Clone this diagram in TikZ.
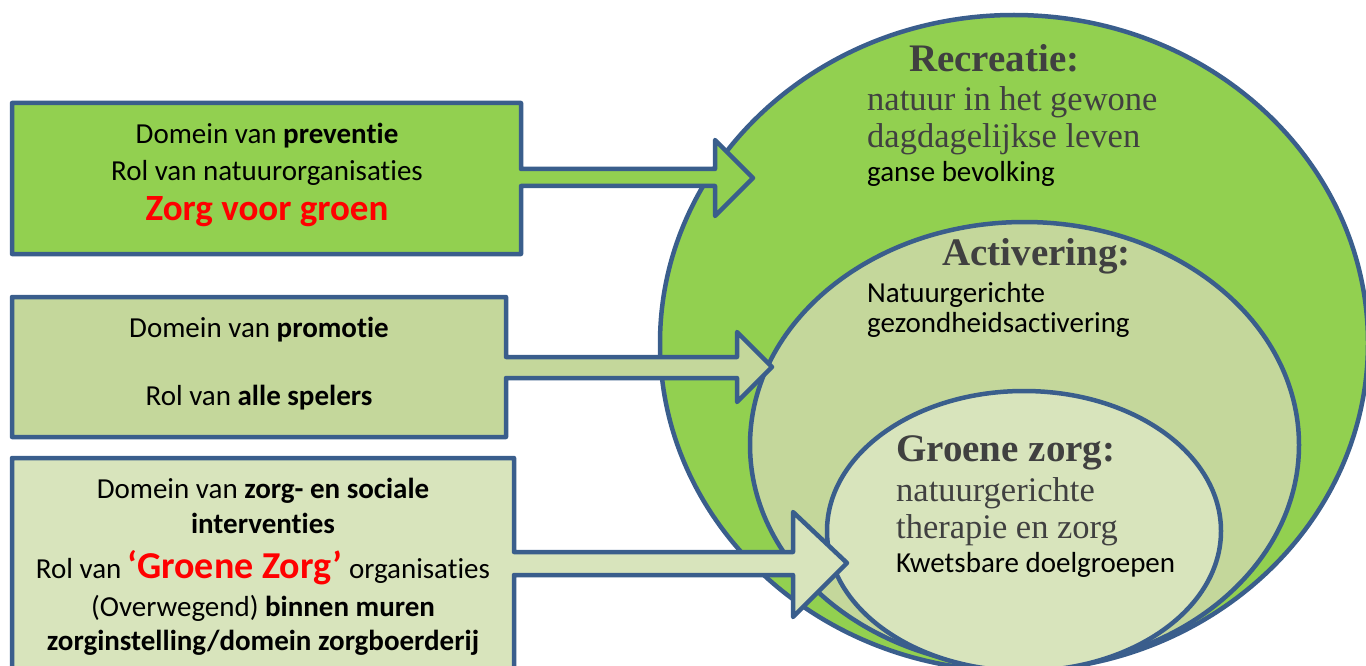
\documentclass[tikz,border=0pt]{standalone}
\usepackage{fontspec}
\setmainfont[Ligatures={TeX,NoCommon}]{Carlito}
\newfontfamily\camserif{Liberation Serif}
\definecolor{edge}{RGB}{58,94,140}
\definecolor{gA}{HTML}{92D050}
\definecolor{gB}{HTML}{C4D79B}
\definecolor{gC}{HTML}{D8E4BC}
\definecolor{txtgray}{HTML}{404040}
\definecolor{zred}{HTML}{FF0000}
\begin{document}
\begin{tikzpicture}[x=1pt,y=-1pt,
  outline/.style={draw=edge, line width=4.5pt, line join=round},
  cal/.style={font=\fontsize{29}{36}\selectfont, inner sep=0pt, text=black},
  redbig/.style={font=\fontsize{37}{44}\selectfont\bfseries, inner sep=0pt, text=zred},
  sertitle/.style={font=\camserif\fontsize{39}{46}\selectfont\bfseries, inner sep=0pt, text=txtgray},
  sertext/.style={font=\camserif\fontsize{34.5}{40}\selectfont, inner sep=0pt, text=txtgray}]
\useasboundingbox (0,0) rectangle (1366,666);
\clip (0,0) rectangle (1366,666);

% nested ellipses
\draw[outline, fill=gA] (1014,343) ellipse [x radius=354, y radius=328];
\draw[outline, fill=gB] (1024.5,445) ellipse [x radius=274.5, y radius=223];
\draw[outline, fill=gC] (1024,531) ellipse [x radius=197, y radius=140];

% box 1 with arrow
\coordinate (tip1) at (753,178);
\draw[outline, fill=gA] (12,103) -- (521,103) -- (521,169) -- (715,169) -- (715,140)
  -- (tip1) -- (715,216) -- (715,186) -- (521,186) -- (521,254) -- (12,254) -- cycle;
% box 2 with arrow
\coordinate (tip2) at (772,367);
\draw[outline, fill=gB] (12,297) -- (506,297) -- (506,357) -- (737,357) -- (737,332)
  -- (tip2) -- (737,402) -- (737,378) -- (506,378) -- (506,437) -- (12,437) -- cycle;
% box 3 with arrow
\coordinate (tip3) at (847,563);
\draw[outline, fill=gC] (12,458) -- (514,458) -- (514,552) -- (793,552) -- (793,512)
  -- (tip3) -- (793,617) -- (793,575) -- (514,575) -- (514,700) -- (12,700) -- cycle;

% box texts
\node[cal, anchor=base] (b1a) at (267,144) {Domein van \textbf{preventie}};
\node[cal, anchor=base] (b1b) at (267,180) {Rol van natuurorganisaties};
\node[redbig, anchor=base] (b1c) at (267,220) {Zorg voor groen};

\node[cal, anchor=base] (b2a) at (259,337) {Domein van \textbf{promotie}};
\node[cal, anchor=base] (b2b) at (259,405) {Rol van \textbf{alle spelers}};

\node[cal, anchor=base] (b3a) at (263,498) {Domein van \textbf{zorg- en sociale}};
\node[cal, anchor=base] (b3b) at (263,533) {\textbf{interventies}};
\node[cal, anchor=base] (b3c) at (263,578) {Rol van \textcolor{zred}{\fontsize{38}{44}\selectfont\bfseries ‘Groene Zorg’} organisaties};
\node[cal, anchor=base] (b3d) at (263,616) {(Overwegend) \textbf{binnen muren}};
\node[cal, anchor=base] (b3e) at (263,650) {\textbf{zorginstelling/domein zorgboerderij}};

% ellipse texts
\node[sertitle, anchor=base west] (r1) at (909,72) {Recreatie:};
\node[sertext, anchor=base west] (r2) at (867,111) {natuur in het gewone};
\node[sertext, anchor=base west] (r3) at (867,148) {dagdagelijkse leven};
\node[cal, anchor=base west] (r4) at (867,182) {ganse bevolking};

\node[sertitle, anchor=base west] (a1) at (942,265) {Activering:};
\node[cal, anchor=base west] (a2) at (867,302) {Natuurgerichte};
\node[cal, anchor=base west] (a3) at (867,332) {gezondheidsactivering};

\node[sertitle, anchor=base west] (g1) at (896,461) {Groene zorg:};
\node[sertext, anchor=base west] (g2) at (896,501) {natuurgerichte};
\node[sertext, anchor=base west] (g3) at (896,538) {therapie en zorg};
\node[cal, anchor=base west] (g4) at (896,572) {Kwetsbare doelgroepen};
\end{tikzpicture}
\end{document}
